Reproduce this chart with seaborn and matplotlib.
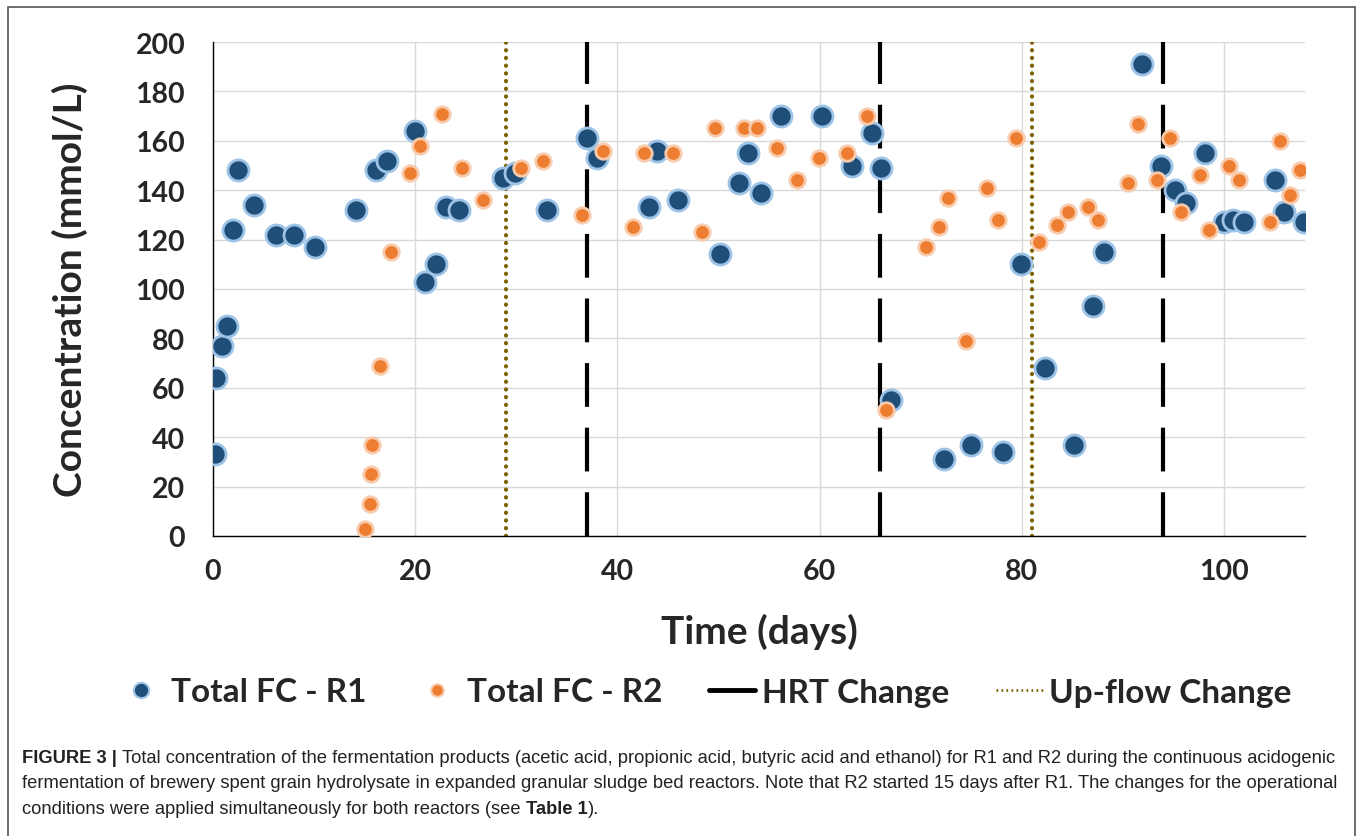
import numpy as np
import pandas as pd
import seaborn as sns
import matplotlib.pyplot as plt
from matplotlib.lines import Line2D
from matplotlib.patches import Rectangle

r1_days = [0.2, 0.3, 0.9, 1.4, 2.0, 2.5, 4.1, 6.2, 8.0, 10.1,
           14.1, 16.1, 17.2, 20.0, 21.0, 22.1, 23.0, 24.3, 28.7, 29.9,
           33.0, 37.0, 38.0, 43.1, 43.9, 46.0, 50.1, 52.0, 52.9, 54.2,
           56.2, 60.2, 63.2, 65.2, 66.1, 67.1, 72.3, 75.0, 78.1, 79.9,
           82.3, 85.2, 87.0, 88.1, 91.9, 93.8, 95.1, 96.2, 98.1, 100.0,
           100.9, 102.0, 105.0, 105.9, 107.9]
r1_conc = [33, 64, 77, 85, 124, 148, 134, 122, 122, 117,
           132, 148, 152, 164, 103, 110, 133, 132, 145, 147,
           132, 161, 153, 133, 156, 136, 114, 143, 155, 139,
           170, 170, 150, 163, 149, 55, 31, 37, 34, 110,
           68, 37, 93, 115, 191, 150, 140, 135, 155, 127,
           128, 127, 144, 131, 127]

r2_days = [15.0, 15.5, 15.6, 15.7, 16.5, 17.6, 19.5, 20.5, 22.6, 24.6,
           26.7, 30.5, 32.6, 36.5, 38.6, 41.5, 42.6, 45.5, 48.4, 49.6,
           52.5, 53.8, 55.8, 57.8, 59.9, 62.7, 64.7, 66.6, 70.5, 71.8,
           72.7, 74.5, 76.5, 77.6, 79.4, 81.7, 83.5, 84.6, 86.5, 87.5,
           90.5, 91.5, 93.4, 94.6, 95.7, 97.6, 98.5, 100.5, 101.5, 104.5,
           105.5, 106.5, 107.5]
r2_conc = [3, 13, 25, 37, 69, 115, 147, 158, 171, 149,
           136, 149, 152, 130, 156, 125, 155, 155, 123, 165,
           165, 165, 157, 144, 153, 155, 170, 51, 117, 125,
           137, 79, 141, 128, 161, 119, 126, 131, 133, 128,
           143, 167, 144, 161, 131, 146, 124, 150, 144, 127,
           160, 138, 148]

hrt_days = [37, 66, 94]
upflow_days = [29, 81]

x_ticks = [0, 20, 40, 60, 80, 100]
y_ticks = [0, 20, 40, 60, 80, 100, 120, 140, 160, 180, 200]

caption = [
    [("FIGURE 3 | ", "bold"), ("Total concentration of the fermentation products (acetic acid, propionic acid, butyric acid and ethanol) for R1 and R2 during the continuous acidogenic", "normal")],
    [("fermentation of brewery spent grain hydrolysate in expanded granular sludge bed reactors. Note that R2 started 15 days after R1. The changes for the operational", "normal")],
    [("conditions were applied simultaneously for both reactors (see ", "normal"), ("Table 1", "bold"), (").", "normal")],
]

df1 = pd.DataFrame({"day": r1_days, "conc": r1_conc})
df2 = pd.DataFrame({"day": r2_days, "conc": r2_conc})

sns.set_style("white")
plt.rcParams["font.family"] = ["Lato", "DejaVu Sans"]

fig = plt.figure(figsize=(13.58, 8.37), dpi=100)
ax = fig.add_axes([213 / 1358, 1 - 537 / 837, 1092 / 1358, 494 / 837])

blue, blue_edge = "#1F4E79", "#9DC3E6"
orange, orange_edge = "#ED7D31", "#F8CBAD"

for d in hrt_days:
    ax.axvline(d, color="black", lw=3.0, dashes=(10.5, 5), zorder=2)
for d in upflow_days:
    ax.axvline(d, color="#7F6000", lw=3.0, dashes=(0.05, 1.8),
               dash_capstyle="round", zorder=2)

sns.scatterplot(data=df1, x="day", y="conc", ax=ax, color=blue, s=230,
                edgecolor=blue_edge, linewidth=2.0, zorder=3)
sns.scatterplot(data=df2, x="day", y="conc", ax=ax, color=orange, s=125,
                edgecolor=orange_edge, linewidth=2.0, zorder=4)

ax.set_xlim(0, 108)
ax.set_ylim(0, 200)
ax.set_xticks(x_ticks)
ax.set_yticks(y_ticks)
ax.grid(True, color="#D9D9D9", lw=1.0)
ax.set_axisbelow(True)
for s in ["top", "right"]:
    ax.spines[s].set_visible(False)
for s in ["left", "bottom"]:
    ax.spines[s].set_color("black")
    ax.spines[s].set_linewidth(1.0)
ax.tick_params(axis="both", length=7, width=1, color="black", direction="out",
               labelsize=20.5)
ax.tick_params(axis="y", pad=13)
ax.tick_params(axis="x", pad=9)
for lab in ax.get_xticklabels() + ax.get_yticklabels():
    lab.set_fontweight("bold")
ax.set_xlabel("Time (days)", fontsize=28, fontweight="bold", va="center")
ax.xaxis.set_label_coords(0.5, (537 - 632) / 494)
ax.set_ylabel("Concentration (mmol/L)", fontsize=28, fontweight="bold", va="center")
ax.yaxis.set_label_coords((70 - 213) / 1092, 0.5)

handles = [
    Line2D([], [], ls="none", marker="o", ms=11, mfc=blue, mec=blue_edge, mew=1.5),
    Line2D([], [], ls="none", marker="o", ms=9, mfc=orange, mec=orange_edge, mew=1.5),
    Line2D([], [], color="black", lw=3.5),
    Line2D([], [], color="#7F6000", lw=2.0, dashes=(0.6, 1.2)),
]
labels = ["Total FC - R1", "Total FC - R2", "HRT Change", "Up-flow Change"]
fig.legend(handles, labels, loc="center", bbox_to_anchor=(0.519, 1 - 693 / 837),
           ncol=4, frameon=False, prop={"size": 24, "weight": "bold"},
           handlelength=1.4, handletextpad=0.2, columnspacing=1.4)

fig.add_artist(Rectangle((8 / 1358, -0.01), 1347 / 1358, (837 - 8) / 837 + 0.01,
                         transform=fig.transFigure, fill=False,
                         edgecolor="#555555", lw=1.2))

# caption with mixed bold / normal pieces
fig.canvas.draw()
renderer = fig.canvas.get_renderer()
line_y = [759, 784, 810]
for row, y in zip(caption, line_y):
    x = 22
    for txt, w in row:
        t = fig.text(x / 1358, 1 - y / 837, txt, fontsize=13.2, fontweight=w,
                     family=["Liberation Sans", "DejaVu Sans"], color="#222222",
                     va="center", ha="left")
        bb = t.get_window_extent(renderer)
        x += bb.width

fig.savefig("out.png", dpi=100)
